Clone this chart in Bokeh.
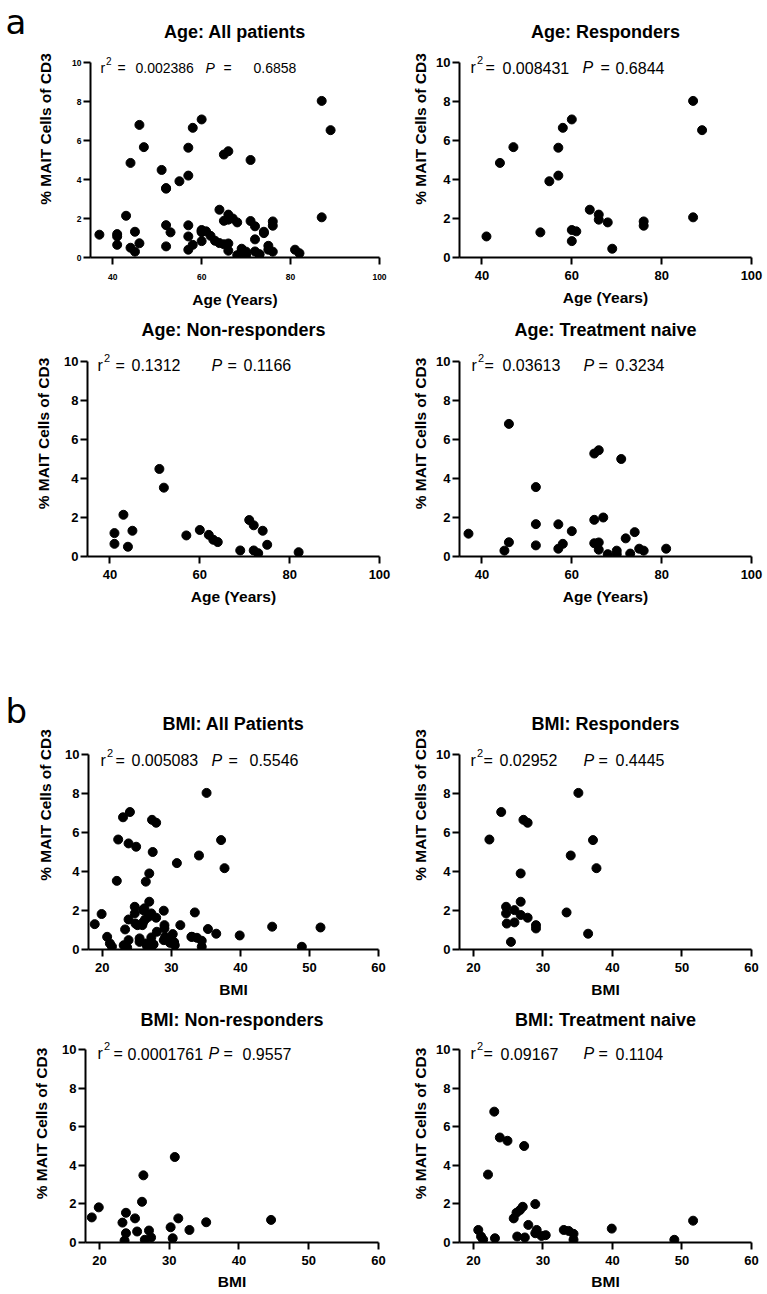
from bokeh.plotting import figure
from bokeh.models import Range1d, Label, FixedTicker, Spacer
from bokeh.layouts import column, row
from bokeh.embed import file_html
from bokeh.resources import INLINE

FONT = "Liberation Sans"
LETTER_FONT = "DejaVu Sans"

# ---------------- data ----------------
# Age vs % MAIT cells of CD3
age_resp_x = [41, 44, 47, 53, 55, 57, 57, 58, 60, 60, 60, 61, 64, 66, 66, 68, 69, 76, 76, 87, 87, 89]
age_resp_y = [1.08, 4.85, 5.66, 1.29, 3.91, 5.63, 4.2, 6.65, 7.08, 1.41, 0.84, 1.34, 2.45, 2.2, 1.94,
              1.8, 0.45, 1.85, 1.63, 8.03, 2.06, 6.53]

age_nonresp_x = [41, 41, 43, 44, 45, 51, 52, 57, 60, 62, 63, 64, 69, 71, 72, 72, 73, 74, 75, 82]
age_nonresp_y = [1.2, 0.65, 2.14, 0.5, 1.32, 4.49, 3.53, 1.08, 1.36, 1.11, 0.86, 0.74, 0.31, 1.87,
                 1.6, 0.31, 0.17, 1.32, 0.6, 0.22]

age_naive_x = [37, 45, 46, 46, 52, 52, 52, 57, 57, 58, 60, 65, 66, 71, 65, 67, 65, 66, 66, 68,
               70, 70, 72, 73, 74, 75, 76, 81]
age_naive_y = [1.17, 0.3, 0.73, 6.8, 3.56, 1.66, 0.57, 1.65, 0.4, 0.65, 1.3, 5.28, 5.45, 5.0, 1.88,
               2.0, 0.68, 0.72, 0.35, 0.12, 0.3, 0.12, 0.93, 0.15, 1.25, 0.4, 0.3, 0.4]

# BMI vs % MAIT cells of CD3
bmi_resp_x = [22.3, 24.0, 24.7, 24.7, 24.8, 25.4, 25.9, 25.9, 26.8, 26.8, 26.8, 27.2, 27.8, 27.8,
              29.0, 29.0, 33.4, 34.0, 35.1, 36.5, 37.2, 37.7]
bmi_resp_y = [5.64, 7.05, 2.19, 1.85, 1.33, 0.39, 2.02, 1.39, 3.9, 2.45, 1.77, 6.65, 6.5, 1.63,
              1.25, 1.08, 1.9, 4.82, 8.03, 0.81, 5.61, 4.17]

bmi_nonresp_x = [18.9, 19.9, 23.3, 23.6, 23.8, 23.8, 25.1, 25.4, 26.1, 26.3, 26.5, 27.1, 27.4,
                 30.2, 30.5, 30.8, 31.3, 32.9, 35.3, 44.6]
bmi_nonresp_y = [1.3, 1.82, 1.03, 0.1, 1.54, 0.48, 1.25, 0.57, 2.11, 3.48, 0.14, 0.62, 0.26,
                 0.79, 0.22, 4.43, 1.25, 0.65, 1.05, 1.17]

bmi_naive_x = [20.7, 21.1, 21.4, 22.1, 23.1, 23.0, 23.8, 24.9, 25.8, 26.2, 26.7, 27.1, 26.3, 27.3,
               27.4, 27.9, 28.9, 28.9, 29.1, 29.8, 30.4, 33.0, 33.7, 34.4, 34.4, 39.9, 48.9, 51.6]
bmi_naive_y = [0.65, 0.31, 0.15, 3.52, 0.22, 6.78, 5.44, 5.27, 1.25, 1.54, 1.68, 1.85, 0.31, 5.0,
               0.26, 0.91, 1.99, 0.48, 0.65, 0.34, 0.38, 0.65, 0.6, 0.45, 0.14, 0.72, 0.14, 1.13]

age_ticks = [40, 60, 80, 100]
bmi_ticks = [20, 30, 40, 50, 60]
y_ticks = [0, 2, 4, 6, 8, 10]
y_bounds = (0, 10)
age_range = (35, 100)
bmi_range = (18, 60)

panel_titles = ["Age: All patients", "Age: Responders", "Age: Non-responders", "Age: Treatment naive",
                "BMI: All Patients", "BMI: Responders", "BMI: Non-responders", "BMI: Treatment naive"]
r2_values = ["0.002386", "0.008431", "0.1312", "0.03613", "0.005083", "0.02952", "0.0001761", "0.09167"]
p_values = ["0.6858", "0.6844", "0.1166", "0.3234", "0.5546", "0.4445", "0.9557", "0.1104"]
x_labels = ["Age (Years)", "BMI"]
y_label = "% MAIT Cells of CD3"
panel_letters = ["a", "b"]


def make_panel(title, xlabel, groups, xr, xticks, r2, pv, s):
    # frame extends above y=10 so that the title and statistics fit inside it;
    # the y axis itself is bounded to 0..10
    frame_h = s["h"] - s["b"]
    plot_h = frame_h - s["top"]
    ytop = y_bounds[1] * frame_h / plot_h
    p = figure(width=s["w"], height=s["h"], x_range=Range1d(*xr), y_range=Range1d(0, ytop),
               output_backend="svg", toolbar_location=None,
               min_border_left=s["l"], min_border_right=s["r"],
               min_border_top=0, min_border_bottom=s["b"])
    p.outline_line_color = None
    p.grid.visible = False
    p.background_fill_color = "white"
    p.border_fill_color = "white"
    for ax in (p.xaxis[0], p.yaxis[0]):
        ax.axis_line_width = 2
        ax.axis_line_color = "black"
        ax.major_tick_line_width = 2
        ax.major_tick_line_color = "black"
        ax.major_tick_out = 7
        ax.major_tick_in = 0
        ax.minor_tick_line_color = None
        ax.major_label_text_font = FONT
        ax.major_label_text_font_style = "bold"
        ax.major_label_text_font_size = s["tick_font"]
        ax.major_label_text_color = "black"
        ax.axis_label_text_font = FONT
        ax.axis_label_text_font_style = "bold"
        ax.axis_label_text_font_size = "15.5px"
        ax.axis_label_text_color = "black"
    p.xaxis.ticker = FixedTicker(ticks=xticks)
    p.yaxis.ticker = FixedTicker(ticks=y_ticks)
    p.yaxis.bounds = y_bounds
    p.xaxis.axis_label = xlabel
    p.yaxis.axis_label = y_label
    p.xaxis.major_label_standoff = s["xls"]
    p.xaxis.axis_label_standoff = s["xas"]
    p.yaxis.major_label_standoff = 2
    p.yaxis.axis_label_standoff = s["yas"]

    for gx, gy in groups:
        p.scatter(gx, gy, size=9, color="black")

    # panel title
    p.add_layout(Label(x=(xr[0] + xr[1]) / 2, y=y_bounds[1], y_offset=s["title_dy"], text=title,
                       text_align="center", text_baseline="middle",
                       text_font=FONT, text_font_style="bold", text_font_size="18px",
                       text_color="black"))

    # r^2 / P statistics
    fs = s["stat_font"]
    o = s["offs"]
    base = s["base"]
    pieces = [("r", o[0], base, fs, "normal"),
              ("2", o[0] + s["sup_dx"], base + s["sup_dy"], s["sup_font"], "normal"),
              ("=", o[1], base, fs, "normal"),
              (r2, o[2], base, fs, "normal"),
              ("P", o[3], base, fs, "italic"),
              ("=", o[4], base, fs, "normal"),
              (pv, o[5], base, fs, "normal")]
    for txt, dx, dy, size, style in pieces:
        p.add_layout(Label(x=xr[0], y=y_bounds[1], x_offset=dx, y_offset=dy, text=txt,
                           text_align="left", text_baseline="middle",
                           text_font=FONT, text_font_style=style, text_font_size=size,
                           text_color="black"))
    return p


def letter_panel(letter, w, h, dx, center):
    f = figure(width=w, height=h, x_range=Range1d(0, 1), y_range=Range1d(0, 1),
               output_backend="svg", toolbar_location=None, min_border=0,
               x_axis_location=None, y_axis_location=None)
    f.outline_line_color = None
    f.grid.visible = False
    f.border_fill_color = "white"
    f.add_layout(Label(x=0, y=1, x_offset=dx, y_offset=-center, text=letter,
                       text_align="left", text_baseline="middle",
                       text_font=LETTER_FONT, text_font_size="34px", text_color="black"))
    return f


LEFT = dict(w=400, r=21, tick_font="13px", stat_font="16px", sup_font="11px", sup_dx=6.5,
            sup_dy=7.5, xls=6, xas=6, yas=9, title_dy=31)
RIGHT = dict(w=366, l=59, r=15, tick_font="13px", stat_font="16px", sup_font="11px", sup_dx=6.5,
             sup_dy=7.5, xls=6, xas=6, yas=4, title_dy=31)
LETTER_W = 34

specs = [
    dict(LEFT, w=400 - LETTER_W, l=87 - LETTER_W, h=310, top=62, b=53, tick_font="8.5px",
         stat_font="14px", sup_font="10px", sup_dx=5.5, sup_dy=6.5, xls=9, xas=8, yas=15, base=-5,
         offs=(10, 27, 45, 115, 133, 163)),
    dict(RIGHT, h=310, top=62, b=53, base=-5, offs=(11, 26, 43, 123, 141, 156)),
    dict(LEFT, l=87, h=298, top=51, b=52, base=-3.5, title_dy=32,
         offs=(10, 28, 44, 124, 140, 156)),
    dict(RIGHT, h=298, top=51, b=52, base=-3.5, title_dy=32, offs=(12, 25, 43, 124, 139, 156)),
    dict(LEFT, w=400 - LETTER_W, l=85 - LETTER_W, r=22, h=344, top=94, b=55, yas=8, base=-5.5,
         offs=(12, 27, 43, 123, 140, 161)),
    dict(RIGHT, h=344, top=94, b=55, base=-5.5, offs=(11, 24, 40, 124, 139, 156)),
    dict(LEFT, l=85, r=22, h=289, top=45, b=51, xas=5, base=-4, title_dy=30,
         offs=(12, 28, 42, 123, 138, 157)),
    dict(RIGHT, h=289, top=45, b=51, xas=5, base=-4, title_dy=30, offs=(11, 24, 41, 124, 139, 156)),
]

age_groups = {
    "all": [(age_resp_x, age_resp_y), (age_nonresp_x, age_nonresp_y), (age_naive_x, age_naive_y)],
    "resp": [(age_resp_x, age_resp_y)],
    "nonresp": [(age_nonresp_x, age_nonresp_y)],
    "naive": [(age_naive_x, age_naive_y)],
}
bmi_groups = {
    "all": [(bmi_resp_x, bmi_resp_y), (bmi_nonresp_x, bmi_nonresp_y), (bmi_naive_x, bmi_naive_y)],
    "resp": [(bmi_resp_x, bmi_resp_y)],
    "nonresp": [(bmi_nonresp_x, bmi_nonresp_y)],
    "naive": [(bmi_naive_x, bmi_naive_y)],
}
order = ["all", "resp", "nonresp", "naive"]

panels = []
for i in range(8):
    if i < 4:
        grp, xr, xt, xl = age_groups[order[i]], age_range, age_ticks, x_labels[0]
    else:
        grp, xr, xt, xl = bmi_groups[order[i - 4]], bmi_range, bmi_ticks, x_labels[1]
    panels.append(make_panel(panel_titles[i], xl, grp, xr, xt, r2_values[i], p_values[i], specs[i]))

letter_a = letter_panel(panel_letters[0], LETTER_W, 310, 5, 21.5)
letter_b = letter_panel(panel_letters[1], LETTER_W, 344, 5, 50.5)

layout = column(
    row(letter_a, panels[0], panels[1]),
    row(panels[2], panels[3]),
    Spacer(height=52, width=766),
    row(letter_b, panels[4], panels[5]),
    row(panels[6], panels[7]),
)

open("out.html", "w").write(file_html(layout, INLINE))
